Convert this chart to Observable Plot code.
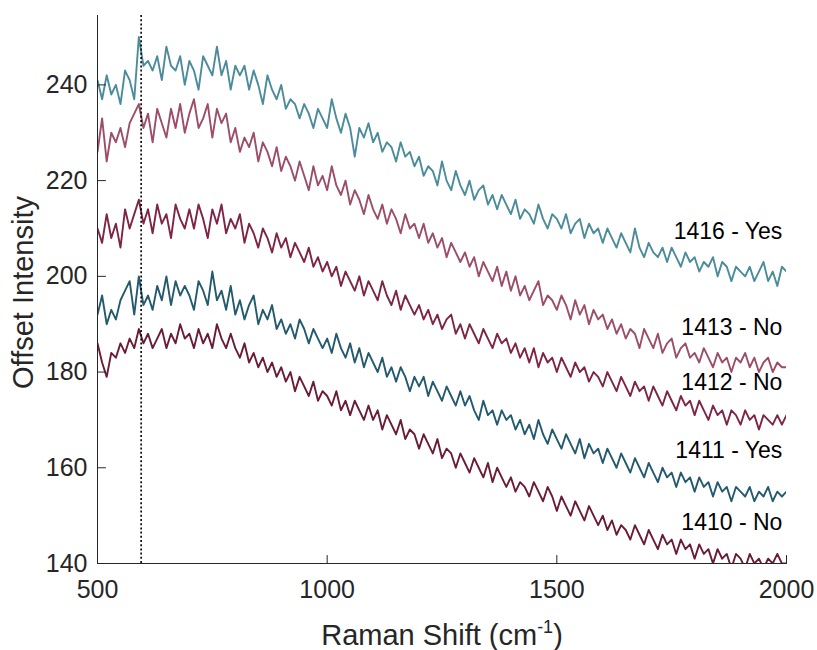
<!DOCTYPE html>
<html><head><meta charset="utf-8">
<script src="https://cdn.jsdelivr.net/npm/d3@7"></script>
<script src="https://cdn.jsdelivr.net/npm/@observablehq/plot@0.6"></script>
<style>
body{margin:0;background:#fff}
</style>
</head><body><div id="chart"></div>
<script>
// Raman shift grid (cm^-1), 10 cm^-1 steps from 500 to 2000
const ramanShift = d3.range(500, 2001, 10);

const sampleNames = ["1416", "1413", "1412", "1411", "1410"];
const sampleLabels = ["1416 - Yes", "1413 - No", "1412 - No", "1411 - Yes", "1410 - No"];
const labelIntensity = [209.3, 189.3, 177.8, 163.6, 148.6];
const labelShift = [1991, 1991, 1991, 1991, 1991];
const markerShift = [595];
const xTicks = [500, 1000, 1500, 2000];
const yTicks = [140, 160, 180, 200, 220, 240];
const xLabel = "Raman Shift (cm-1)";
const yLabel = "Offset Intensity";

const s1416 = [
241,237,242,238,240,236,243,241,237,250,
244,245,243,246,241,248,244,243,246,240,
245,243,239,246,244,242,248,242,245,239,
244,242,244,239,243,240,236,242,239,237,
240,235,237,236,233,236,234,231,235,233,
231,237,233,230,234,231,225,231,229,232,
228,230,226,228,227,224,228,225,226,223,
225,221,223,222,219,224,220,218,222,219,
217,220,216,218,219,215,217,214,217,215,
213,216,212,214,213,211,215,212,210,213,
212,210,213,209,211,212,208,211,209,210,
207,210,208,206,209,207,205,210,206,204,
207,205,204,206,203,206,204,202,205,203,
204,201,203,202,204,200,203,202,199,202,
201,200,202,199,201,203,199,201,198,202,
201];
const s1413 = [
226,233,224,230,228,231,227,232,234,236,
231,234,228,235,232,229,235,231,236,230,
234,237,231,233,236,229,235,232,234,228,
231,226,229,227,230,224,228,226,223,227,
222,225,223,220,224,221,218,223,219,221,
218,223,219,217,220,215,218,216,213,217,
214,212,215,211,214,212,209,213,210,211,
208,211,207,209,206,208,204,207,205,203,
205,202,204,200,203,201,199,202,198,201,
197,200,196,198,195,197,199,194,196,195,
193,196,194,191,195,192,194,190,193,191,
192,189,191,188,190,187,189,188,185,189,
187,185,188,184,186,187,183,185,186,183,
184,182,185,183,181,184,182,183,180,183,
182,184,181,183,180,182,183,180,182,181,
181];
const s1412 = [
210,207,213,208,211,206,214,210,213,216,
211,214,209,215,211,213,208,215,212,210,
214,210,215,212,208,214,211,215,209,212,
210,213,207,211,209,206,210,208,205,209,
206,208,204,207,205,203,206,202,204,201,
203,200,202,198,201,199,197,200,196,199,
197,195,199,196,194,197,193,196,194,192,
194,191,193,190,192,189,191,192,188,190,
187,190,188,186,189,187,185,188,186,187,
184,186,183,185,182,185,181,184,182,183,
180,183,181,179,182,180,181,178,180,179,
177,180,178,176,179,177,175,178,176,177,
174,177,175,173,176,174,172,175,173,174,
171,174,172,170,173,171,172,169,172,171,
169,172,170,171,168,171,170,169,171,169,
171];
const s1411 = [
192,196,190,193,191,195,197,199,192,200,
194,196,193,198,195,200,194,199,196,198,
196,193,199,197,194,201,195,197,193,198,
192,195,191,194,196,190,193,191,194,189,
191,188,190,187,191,189,186,189,187,185,
187,184,188,185,183,186,182,185,181,184,
182,180,183,179,181,178,181,179,176,179,
177,179,175,178,176,174,177,175,173,176,
173,175,172,170,174,171,172,169,172,170,
171,168,170,167,169,166,170,167,165,168,
166,164,167,165,163,166,162,165,163,164,
161,164,162,160,163,161,159,162,160,158,
161,159,157,160,158,159,156,159,157,158,
155,158,156,157,154,157,155,156,153,156,
155,154,156,153,155,154,156,153,155,154,
155];
const s1410 = [
186,182,179,184,183,186,184,187,185,189,
186,188,185,187,189,185,188,186,190,187,
188,185,189,186,188,185,190,187,185,188,
185,183,186,182,184,181,183,180,182,179,
181,178,180,176,179,177,175,178,174,176,
175,173,176,172,174,171,174,172,170,173,
170,172,168,171,169,167,170,166,168,167,
164,167,165,163,166,162,164,163,160,163,
161,159,162,160,158,161,157,160,158,156,
158,155,157,156,154,157,155,153,156,154,
151,154,152,150,153,151,149,152,150,148,
150,147,149,146,148,147,145,148,146,144,
147,145,143,146,144,145,142,145,143,144,
141,144,142,143,140,143,141,142,139,142,
141,139,142,140,141,139,141,140,142,140,
140];

const seriesValues = [s1416, s1413, s1412, s1411, s1410];
const lineColors = ["#4b8c9b", "#9c4d68", "#7e2444", "#235a6d", "#6b1b37"];

const rows = [];
seriesValues.forEach((vals, i) => vals.forEach((v, j) => rows.push({shift: ramanShift[j], intensity: v, sample: sampleNames[i]})));
const labels = sampleLabels.map((t, i) => ({text: t, shift: labelShift[i], intensity: labelIntensity[i]}));

const font = '"Liberation Sans", Arial, Helvetica, sans-serif';
const ink = "#262626";
const tickShape = {draw(ctx, l) { ctx.moveTo(0, 0); ctx.lineTo(0, -l); }};

const svg = Plot.plot({
  width: 817,
  height: 650,
  marginLeft: 97,
  marginRight: 31,
  marginTop: 15,
  marginBottom: 87,
  style: {fontFamily: font, color: ink, background: "#fff", overflow: "visible"},
  x: {domain: [500, 2000]},
  y: {domain: [140, 254.5]},
  color: {domain: sampleNames, range: lineColors},
  marks: [
    Plot.lineY(rows, {x: "shift", y: "intensity", z: "sample", stroke: "sample", strokeWidth: 1.9, strokeLinejoin: "round", clip: true}),
    Plot.ruleX(markerShift, {stroke: "#000", strokeWidth: 1.6, strokeDasharray: "2,2.2"}),
    Plot.ruleX([500], {stroke: ink, strokeWidth: 1}),
    Plot.ruleY([140], {stroke: ink, strokeWidth: 1}),
    Plot.vector(xTicks, {x: d => d, y: 140, length: 8, rotate: 0, anchor: "start", shape: tickShape, stroke: ink, strokeWidth: 1}),
    Plot.vector(yTicks, {x: 500, y: d => d, length: 8, rotate: 90, anchor: "start", shape: tickShape, stroke: ink, strokeWidth: 1}),
    Plot.axisX({ticks: xTicks, tickSize: 0, tickPadding: 17, fontSize: 25, label: null, tickFormat: d => String(d)}),
    Plot.axisY({ticks: yTicks, tickSize: 0, tickPadding: 10, fontSize: 25, label: null}),
    Plot.text(labels, {x: "shift", y: "intensity", text: "text", textAnchor: "end", fontSize: 23, fill: "#000"}),
    Plot.text([xLabel], {frameAnchor: "bottom", textAnchor: "middle", dy: 81, fontSize: 29, fill: ink}),
    Plot.text([yLabel], {frameAnchor: "left", textAnchor: "middle", rotate: -90, dx: -74, dy: 3, fontSize: 29, fill: ink})
  ]
});

const t = [...svg.querySelectorAll("text")].find(e => e.textContent === xLabel);
if (t) {
  const ns = "http://www.w3.org/2000/svg";
  t.textContent = "";
  const a = document.createElementNS(ns, "tspan"); a.textContent = "Raman Shift (cm"; t.appendChild(a);
  const b = document.createElementNS(ns, "tspan"); b.textContent = "-1"; b.setAttribute("font-size", "18"); b.setAttribute("dy", "-12"); t.appendChild(b);
  const c = document.createElementNS(ns, "tspan"); c.textContent = ")"; c.setAttribute("dy", "12"); t.appendChild(c);
}
document.getElementById("chart").appendChild(svg);
</script>
</body></html>
